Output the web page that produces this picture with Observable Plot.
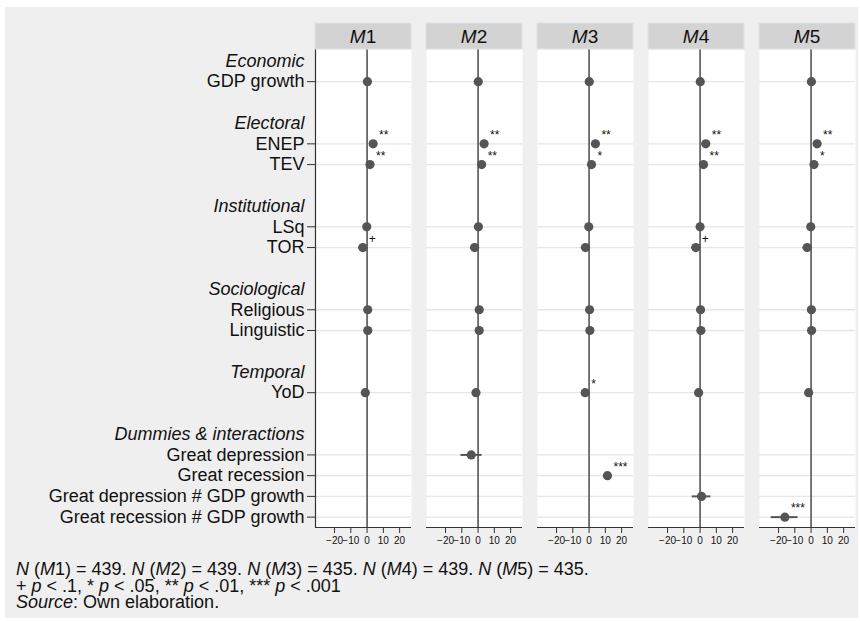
<!DOCTYPE html>
<html>
<head>
<meta charset="utf-8">
<script src="https://cdn.jsdelivr.net/npm/d3@7"></script>
<script src="https://cdn.jsdelivr.net/npm/@observablehq/plot@0.6"></script>
<style>
  html, body { margin: 0; padding: 0; background: #ffffff; }
  body { width: 860px; height: 621px; position: relative; overflow: hidden;
         font-family: "Liberation Sans", Arial, Helvetica, sans-serif; }
  #bg { position: absolute; left: 5px; top: 7px; width: 853px; height: 611px; background: #efefef; }
  #chart { position: absolute; left: 0; top: 0; }
  #note { position: absolute; left: 16px; top: 561px; font-size: 18px; line-height: 16.5px; color: #111; white-space: nowrap; }
</style>
</head>
<body>
<div id="bg"></div>
<div id="chart"></div>
<div id="note"></div>
<script>
// Models shown as columns
const models = ["M1", "M2", "M3", "M4", "M5"];
const sampleSizes = [439, 439, 435, 439, 435];

// Variable groups, in display order
const groups = ["Economic", "Electoral", "Institutional", "Sociological", "Temporal", "Dummies & interactions"];
const groupVariables = [
  ["GDP growth"],
  ["ENEP", "TEV"],
  ["LSq", "TOR"],
  ["Religious", "Linguistic"],
  ["YoD"],
  ["Great depression", "Great recession", "Great depression # GDP growth", "Great recession # GDP growth"]
];

// Estimates per model, in the order of groupVariables.flat(); null = not in the model
const coefM1 = [0.2, 3.7, 1.8, -0.2, -2.6, 0.4, 0.4, -1.1, null, null, null, null];
const lowM1  = [-0.2, 1.5, 0.5, -0.7, -5.3, -0.3, -0.3, -2.3, null, null, null, null];
const highM1 = [0.6, 5.9, 3.1, 0.3, 0.1, 1.1, 1.1, 0.1, null, null, null, null];
const starsM1 = ["", "**", "**", "", "+", "", "", "", "", "", "", ""];

const coefM2 = [0.1, 3.7, 2.2, 0.2, -2.1, 0.7, 0.7, -1.3, -4.2, null, null, null];
const lowM2  = [-0.3, 1.5, 0.9, -0.3, -4.7, 0.0, 0.0, -2.7, -10.5, null, null, null];
const highM2 = [0.5, 5.9, 3.5, 0.7, 0.5, 1.4, 1.4, 0.1, 2.4, null, null, null];
const starsM2 = ["", "**", "**", "", "", "", "", "", "", "", "", ""];

const coefM3 = [0.1, 3.9, 1.5, -0.2, -2.2, 0.3, 0.5, -2.4, null, 11.3, null, null];
const lowM3  = [-0.3, 1.6, 0.1, -0.7, -4.8, -0.4, -0.2, -4.6, null, 8.8, null, null];
const highM3 = [0.5, 6.2, 2.9, 0.3, 0.4, 1.0, 1.2, -0.2, null, 13.8, null, null];
const starsM3 = ["", "**", "*", "", "", "", "", "*", "", "***", "", ""];

const coefM4 = [0.1, 3.5, 2.1, 0.0, -2.6, 0.3, 0.5, -0.9, null, null, 0.9, null];
const lowM4  = [-0.3, 1.3, 0.8, -0.5, -5.3, -0.4, -0.2, -2.1, null, null, -4.8, null];
const highM4 = [0.5, 5.7, 3.4, 0.5, 0.1, 1.0, 1.2, 0.3, null, null, 6.6, null];
const starsM4 = ["", "**", "**", "", "+", "", "", "", "", "", "", ""];

const coefM5 = [0.2, 3.7, 1.8, -0.2, -2.4, 0.2, 0.3, -1.5, null, null, null, -16.1];
const lowM5  = [-0.2, 1.5, 0.4, -0.7, -5.0, -0.5, -0.4, -3.1, null, null, null, -24.5];
const highM5 = [0.6, 5.9, 3.2, 0.3, 0.2, 0.9, 1.0, 0.1, null, null, null, -8.0];
const starsM5 = ["", "**", "*", "", "", "", "", "", "", "", "", "***"];

const xTicks = [-20, -10, 0, 10, 20];

// ---- derived tables ----
const FONT = "'Liberation Sans', Arial, Helvetica, sans-serif";
const variables = groupVariables.flat();
const coefs = [coefM1, coefM2, coefM3, coefM4, coefM5];
const lows = [lowM1, lowM2, lowM3, lowM4, lowM5];
const highs = [highM1, highM2, highM3, highM4, highM5];
const stars = [starsM1, starsM2, starsM3, starsM4, starsM5];

// Each group gets a heading row, one row per variable, then a spacer row
const headingRows = [];
const varRows = [];
let r = 0;
groups.forEach((g, gi) => {
  headingRows.push({label: g, row: r++});
  groupVariables[gi].forEach(v => varRows.push({label: v, row: r++}));
  r++;
});
const rowOf = new Map(varRows.map(d => [d.label, d.row]));
const labelOf = new Map(varRows.map(d => [d.row, d.label]));

const estimates = [];
models.forEach((m, mi) => {
  variables.forEach((v, vi) => {
    if (coefs[mi][vi] == null) return;
    estimates.push({model: m, variable: v, row: rowOf.get(v),
      coef: coefs[mi][vi], lo: lows[mi][vi], hi: highs[mi][vi], stars: stars[mi][vi]});
  });
});

const lastRow = varRows[varRows.length - 1].row;
const yDomain = [-0.55, lastRow + 0.5];
const xDomain = [-31.7, 27.3];
const dark = "#555555";

const marginTop = 49;
const plot = Plot.plot({
  width: 860,
  height: 555,
  marginLeft: 313,
  marginRight: 4,
  marginTop,
  marginBottom: 28,
  style: {fontFamily: FONT, background: "transparent", color: "#111", overflow: "visible"},
  fx: {domain: models, paddingInner: 0.138, paddingOuter: 0, axis: null, label: null},
  x: {domain: xDomain, label: null},
  y: {domain: yDomain, reverse: true, label: null},
  marks: [
    Plot.frame({fill: "white", stroke: null}),
    Plot.ruleY(varRows, {y: "row", stroke: "#e6e6e6", strokeWidth: 1.3}),
    Plot.ruleX([0], {stroke: dark, strokeWidth: 1.6}),
    Plot.ruleY([yDomain[1]], {stroke: "#333", strokeWidth: 1.2}),
    Plot.ruleX([xDomain[0]], {fx: () => models[0], stroke: "#333", strokeWidth: 1.2}),
    Plot.axisX(xTicks, {tickSize: 6, tickPadding: 3, fontSize: 10, stroke: "#333"}),
    Plot.axisY(varRows.map(d => d.row), {
      tickSize: 8, tickPadding: 3, fontSize: 18, stroke: "#333",
      tickFormat: v => labelOf.get(v)
    }),
    Plot.text(headingRows, {
      fx: () => models[0], y: "row", text: "label", frameAnchor: "left",
      textAnchor: "end", dx: -11, fontSize: 18, fontStyle: "italic", fill: "#111"
    }),
    Plot.ruleY(estimates, {fx: "model", y: "row", x1: "lo", x2: "hi", stroke: dark, strokeWidth: 2}),
    Plot.dot(estimates, {fx: "model", x: "coef", y: "row", r: 4.6, fill: dark, stroke: null}),
    Plot.text(estimates.filter(d => d.stars), {
      fx: "model", x: "coef", y: "row", text: "stars",
      dx: 6, dy: -5, textAnchor: "start", lineAnchor: "bottom", fontSize: 12, fill: "#111"
    })
  ]
});

// Facet header strips with model names
const fx = plot.scale("fx");
const svg = d3.select(plot);
const headers = svg.append("g").attr("font-family", FONT);
models.forEach(m => {
  const x0 = fx.apply(m);
  const g = headers.append("g");
  g.append("rect")
    .attr("x", x0).attr("y", marginTop - 26)
    .attr("width", fx.bandwidth).attr("height", 26)
    .attr("fill", "#d3d3d3").attr("stroke", "#dde4e8").attr("stroke-width", 1);
  const t = g.append("text")
    .attr("x", x0 + fx.bandwidth / 2).attr("y", marginTop - 13)
    .attr("text-anchor", "middle").attr("dy", "0.35em")
    .attr("font-size", 19).attr("fill", "#111");
  t.append("tspan").attr("font-style", "italic").text(m.slice(0, 1));
  t.append("tspan").text(m.slice(1));
});

document.getElementById("chart").appendChild(plot);

// Footnote
const note = document.getElementById("note");
const nLine = models.map((m, i) =>
  `<i>N</i> (<i>${m.slice(0, 1)}</i>${m.slice(1)}) = ${sampleSizes[i]}.`).join(" ");
note.innerHTML =
  `<div>${nLine}</div>` +
  `<div>+ <i>p</i> &lt; .1, * <i>p</i> &lt; .05, ** <i>p</i> &lt; .01, *** <i>p</i> &lt; .001</div>` +
  `<div><i>Source</i>: Own elaboration.</div>`;
</script>
</body>
</html>
